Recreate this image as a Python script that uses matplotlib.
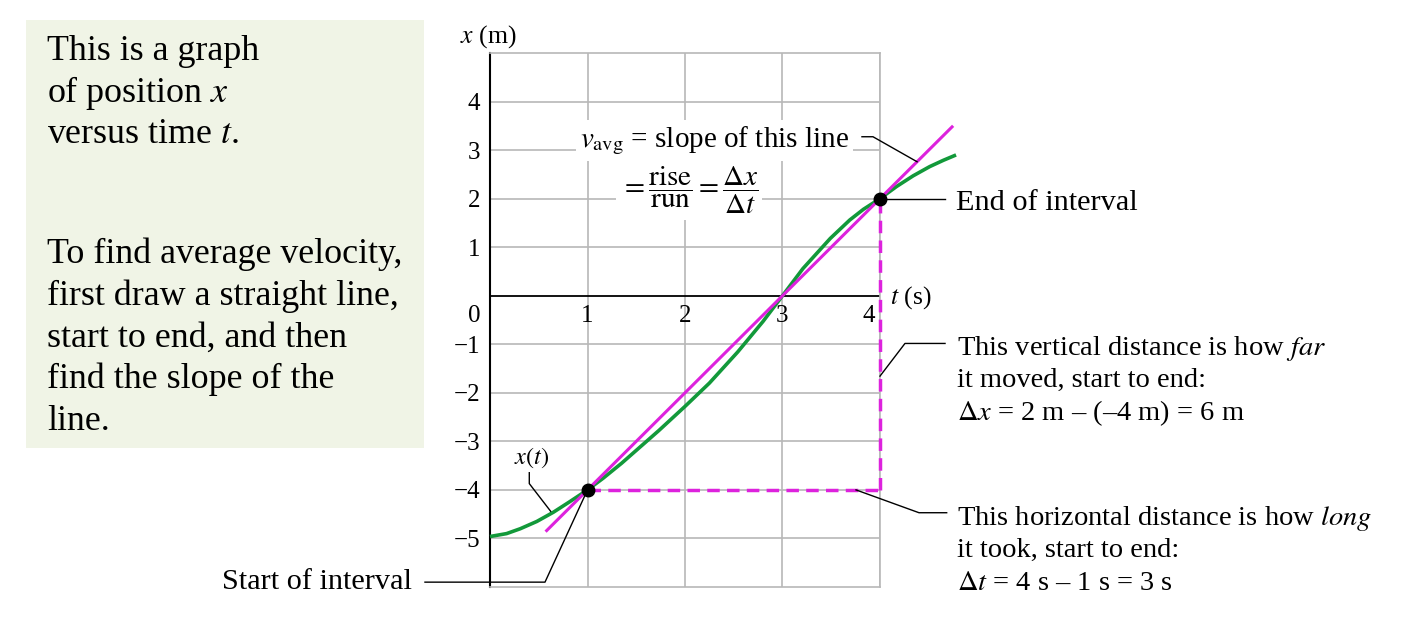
import matplotlib
matplotlib.use('Agg')
import matplotlib.pyplot as plt
from matplotlib.patches import Rectangle

plt.rcParams['font.family'] = ['Liberation Serif', 'DejaVu Serif']
plt.rcParams['mathtext.fontset'] = 'stix'

# ---- data ----
t_curve = [0, 0.17, 0.31, 0.48, 0.65, 0.82, 1.0, 1.16, 1.35, 1.56, 1.73, 2.0,
           2.25, 2.54, 2.80, 3.0, 3.21, 3.49, 3.69, 3.83, 4.0, 4.17, 4.34, 4.51,
           4.65, 4.78]
x_curve = [-4.96, -4.90, -4.80, -4.65, -4.46, -4.24, -4.0, -3.76, -3.45, -3.08, -2.78, -2.28,
           -1.80, -1.16, -0.53, 0.0, 0.56, 1.18, 1.56, 1.78, 2.0, 2.25, 2.47, 2.66,
           2.79, 2.90]
t_start, x_start = 1, -4
t_end, x_end = 4, 2
secant_t = [0.57, 4.75]
x_ticks = [1, 2, 3, 4]
y_ticks = [-5, -4, -3, -2, -1, 1, 2, 3, 4]
t_lim = (0, 4)
x_lim = (-6, 5)

W, H = 1424, 630
fig = plt.figure(figsize=(W / 100, H / 100), dpi=100)

def fx(px):
    return px / W

def fy(py):
    return 1 - py / H

GRID = '#b8b8b8'
GREEN = '#12993a'
MAG = '#dd22dd'

ax = fig.add_axes([490 / W, 43 / H, 390 / W, 534 / H])
ax.set_xlim(*t_lim)
ax.set_ylim(*x_lim)
ax.set_xticks(x_ticks)
ax.set_yticks(y_ticks)
ax.grid(True, color=GRID, lw=1.2)
ax.set_axisbelow(True)
ax.tick_params(length=0, labelsize=18)
ax.tick_params(axis='y', pad=7)
ax.set_xticklabels([])
ax.set_yticklabels([str(v).replace('-', '\u2212') for v in y_ticks])
for s in ['top', 'right', 'bottom']:
    ax.spines[s].set_color(GRID)
    ax.spines[s].set_linewidth(1.2)
ax.spines['left'].set_color('black')
ax.spines['left'].set_linewidth(1.5)
ax.axhline(0, color='black', lw=1.3, zorder=1.5)

# x tick labels along t axis
for v in x_ticks:
    dx = -8 if v == t_lim[1] else 0
    ax.annotate(str(v), xy=(v, 0), xytext=(dx, -6.5), textcoords='offset points',
                ha='center', va='top', fontsize=18, zorder=1)
ax.annotate('0', xy=(0, 0), xytext=(-7, -6.5), textcoords='offset points',
            ha='right', va='top', fontsize=18)

# curve, secant, dashed legs, dots
ax.plot(t_curve, x_curve, color=GREEN, lw=2.6, clip_on=False, zorder=3,
        solid_capstyle='butt', solid_joinstyle='round')
slope = (x_end - x_start) / (t_end - t_start)
sec_x = [x_start + slope * (t - t_start) for t in secant_t]
ax.plot(secant_t, sec_x, color=MAG, lw=2.2, clip_on=False, zorder=4,
        solid_capstyle='butt')
ax.plot([t_start, t_end], [x_start, x_start], color=MAG, lw=2.5,
        linestyle=(0, (3.6, 2.1)), zorder=4, clip_on=False)
ax.plot([t_end, t_end], [x_start, x_end], color=MAG, lw=2.5,
        linestyle=(0, (3.6, 2.1)), zorder=4, clip_on=False)
ax.plot([t_start, t_end], [x_start, x_end], 'o', color='black', ms=9, zorder=6,
        clip_on=False)

# leader lines (data coordinates)
LK = dict(color='black', lw=1.0, clip_on=False, zorder=5)
ax.plot([3.815, 3.928, 4.38], [3.275, 3.275, -6 + 2 * 4.38], **LK)
ax.plot([t_end, 4.667], [x_end, x_end], **LK)
ax.plot([t_end, 4.256, 4.667], [-1.656, -0.983, -0.983], **LK)
ax.plot([3.754, 4.40, 4.684], [x_start, -4.47, -4.47], **LK)
ax.plot([-0.667, 0.564, t_start], [-5.9, -5.9, x_start], **LK)
ax.plot([0.403, 0.403, 0.622], [-3.646, -3.87, -4.44], **LK)

# axis labels
fig.text(fx(460), fy(37), r'$x$ (m)', ha='left', va='center', fontsize=18.5)
fig.text(fx(890), fy(298), r'$t$ (s)', ha='left', va='center', fontsize=18.5)
fig.text(fx(532), fy(458), r'$x(t)$', ha='center', va='center', fontsize=17.5)

# v_avg annotation
fig.text(fx(580), fy(147), r'$v_{\mathrm{avg}}$ = slope of this line', ha='left',
         va='baseline', fontsize=21, zorder=5,
         bbox=dict(facecolor='white', edgecolor='none', pad=3))
fig.text(fx(689), fy(190),
         r'$=\dfrac{\mathrm{rise}}{\mathrm{run}}=\dfrac{\Delta x}{\Delta t}$',
         ha='center', va='center', fontsize=21, zorder=5,
         bbox=dict(facecolor='white', edgecolor='none', pad=3))

# right annotations
AF = 20.5
fig.text(fx(956), fy(210), 'End of interval', ha='left', va='baseline', fontsize=21.8)
fig.text(fx(957), fy(355), r'This vertical distance is how $\it{far}$', ha='left',
         va='baseline', fontsize=AF)
fig.text(fx(957), fy(387), 'it moved, start to end:', ha='left', va='baseline', fontsize=AF)
fig.text(fx(957), fy(420), r'$\Delta x$ = 2 m' + ' \u2013 (\u20134 m) = 6 m', ha='left',
         va='baseline', fontsize=AF)
fig.text(fx(957), fy(525), r'This horizontal distance is how $\it{long}$', ha='left',
         va='baseline', fontsize=AF)
fig.text(fx(957), fy(557), 'it took, start to end:', ha='left', va='baseline', fontsize=AF)
fig.text(fx(957), fy(590), r'$\Delta t$ = 4 s' + ' \u2013 1 s = 3 s', ha='left',
         va='baseline', fontsize=AF)
fig.text(fx(412), fy(589), 'Start of interval', ha='right', va='baseline', fontsize=21.8)

# left info box
fig.patches.append(Rectangle((fx(26), fy(448)), (424 - 26) / W, (448 - 20) / H,
                             transform=fig.transFigure, facecolor='#f0f4e6',
                             edgecolor='none', zorder=0))
box_lines = ['This is a graph', r'of position $x$', r'versus time $t$.',
             'To find average velocity,', 'first draw a straight line,',
             'start to end, and then', 'find the slope of the', 'line.']
box_base = [60, 102, 143, 263, 305, 347, 388, 430]
for s, b in zip(box_lines, box_base):
    fig.text(fx(47), fy(b), s, ha='left', va='baseline', fontsize=25.8)

fig.savefig('out.png', dpi=100)
